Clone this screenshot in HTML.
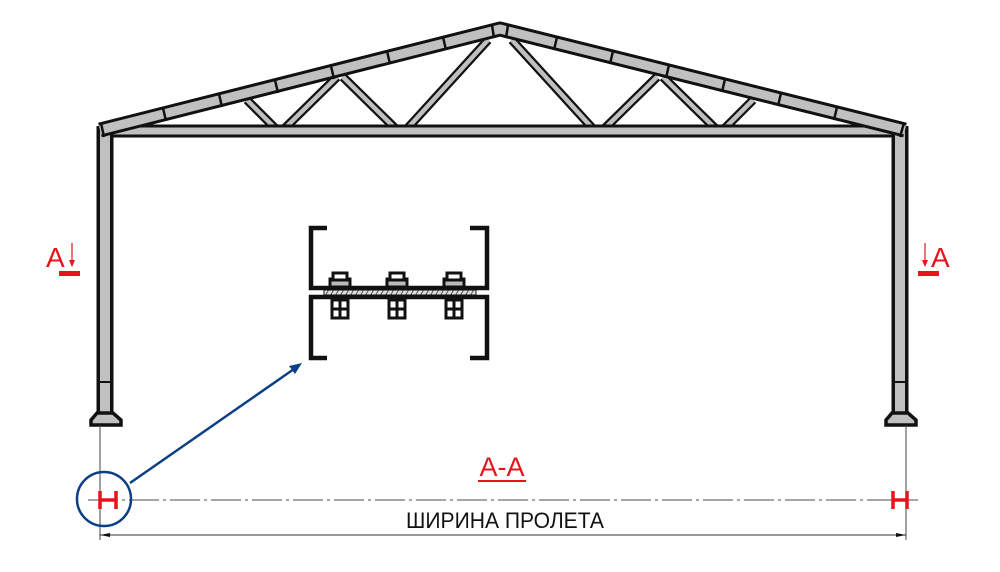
<!DOCTYPE html>
<html><head><meta charset="utf-8"><style>
html,body{margin:0;padding:0;background:#fff;width:1000px;height:572px;overflow:hidden}
svg{display:block}
</style></head><body>
<svg width="1000" height="572" viewBox="0 0 1000 572" xmlns="http://www.w3.org/2000/svg">
<defs>
<pattern id="hatch" width="5" height="6" patternUnits="userSpaceOnUse" patternTransform="skewX(-30)">
<rect width="5" height="6" fill="#ddd"/><line x1="1" y1="0" x2="1" y2="6" stroke="#444" stroke-width="1"/>
</pattern>
</defs>
<g stroke-linecap="butt">
<g stroke="#111" stroke-width="9">
<line x1="247" y1="100" x2="278" y2="131"/>
<line x1="282" y1="131" x2="337" y2="77"/>
<line x1="343" y1="77" x2="398" y2="131"/>
<line x1="405" y1="131" x2="488" y2="40"/>
<line x1="753" y1="100" x2="722" y2="131"/>
<line x1="718" y1="131" x2="663" y2="77"/>
<line x1="657" y1="77" x2="602" y2="131"/>
<line x1="595" y1="131" x2="512" y2="40"/>
</g>
<g stroke="#c0c0c0" stroke-width="4.5">
<line x1="247" y1="100" x2="278" y2="131"/>
<line x1="282" y1="131" x2="337" y2="77"/>
<line x1="343" y1="77" x2="398" y2="131"/>
<line x1="405" y1="131" x2="488" y2="40"/>
<line x1="753" y1="100" x2="722" y2="131"/>
<line x1="718" y1="131" x2="663" y2="77"/>
<line x1="657" y1="77" x2="602" y2="131"/>
<line x1="595" y1="131" x2="512" y2="40"/>
</g>
<line x1="105" y1="131" x2="900" y2="131" stroke="#111" stroke-width="13"/>
<line x1="105" y1="131" x2="900" y2="131" stroke="#c0c0c0" stroke-width="7"/>
<line x1="105" y1="126" x2="105" y2="416" stroke="#111" stroke-width="17"/>
<line x1="105" y1="126" x2="105" y2="416" stroke="#c0c0c0" stroke-width="10"/>
<line x1="900" y1="126" x2="900" y2="416" stroke="#111" stroke-width="17"/>
<line x1="900" y1="126" x2="900" y2="416" stroke="#c0c0c0" stroke-width="10"/>
<line x1="98" y1="382" x2="112" y2="382" stroke="#111" stroke-width="2"/>
<line x1="893" y1="382" x2="907" y2="382" stroke="#111" stroke-width="2"/>
<path d="M97,413 L91,420 L91,425 L121,425 L121,420 L113,413 Z" fill="#c0c0c0" stroke="#111" stroke-width="3.5"/>
<path d="M892,413 L886,420 L886,425 L916,425 L916,420 L908,413 Z" fill="#c0c0c0" stroke="#111" stroke-width="3.5"/>
<path d="M100,130 L500,29 L905,130" fill="none" stroke="#111" stroke-width="15" stroke-linejoin="round"/>
<path d="M100,130 L500,29 L905,130" fill="none" stroke="#c0c0c0" stroke-width="9" stroke-linejoin="round"/>
<g stroke="#111" stroke-width="2.5">
<line x1="101" y1="123" x2="104" y2="137"/>
<line x1="163" y1="108" x2="166" y2="121"/>
<line x1="219" y1="94" x2="222" y2="107"/>
<line x1="275" y1="80" x2="278" y2="93"/>
<line x1="331" y1="66" x2="334" y2="79"/>
<line x1="387" y1="51" x2="390" y2="64"/>
<line x1="443" y1="37" x2="446" y2="50"/>
<line x1="492" y1="25" x2="494" y2="38"/>
<line x1="508" y1="25" x2="506" y2="38"/>
<line x1="557" y1="37" x2="554" y2="50"/>
<line x1="613" y1="51" x2="610" y2="64"/>
<line x1="669" y1="65" x2="666" y2="78"/>
<line x1="725" y1="79" x2="722" y2="92"/>
<line x1="781" y1="93" x2="778" y2="106"/>
<line x1="837" y1="107" x2="834" y2="120"/>
<line x1="904" y1="123" x2="900" y2="137"/>
</g>
</g>
<g fill="none" stroke="#111" stroke-width="4.5">
<path d="M327,228 L311,228 L311,288 L487,288 L487,228 L470,228"/>
<path d="M327,358 L311,358 L311,297 L487,297 L487,358 L470,358"/>
</g>
<rect x="324" y="290" width="152" height="5" fill="url(#hatch)" stroke="#111" stroke-width="1"/>
<g fill="#fff" stroke="#111" stroke-width="3">
<g transform="translate(340,0)"><rect x="-10" y="279" width="20" height="8" fill="#bbb"/><rect x="-7" y="273" width="14" height="7"/><rect x="-8" y="300" width="16" height="18"/><line x1="0" y1="300" x2="0" y2="318"/><line x1="-8" y1="309" x2="8" y2="309"/></g>
<g transform="translate(397,0)"><rect x="-10" y="279" width="20" height="8" fill="#bbb"/><rect x="-7" y="273" width="14" height="7"/><rect x="-8" y="300" width="16" height="18"/><line x1="0" y1="300" x2="0" y2="318"/><line x1="-8" y1="309" x2="8" y2="309"/></g>
<g transform="translate(454,0)"><rect x="-10" y="279" width="20" height="8" fill="#bbb"/><rect x="-7" y="273" width="14" height="7"/><rect x="-8" y="300" width="16" height="18"/><line x1="0" y1="300" x2="0" y2="318"/><line x1="-8" y1="309" x2="8" y2="309"/></g>
</g>
<line x1="100" y1="425" x2="100" y2="540" stroke="#444" stroke-width="1"/>
<line x1="906" y1="425" x2="906" y2="540" stroke="#444" stroke-width="1"/>
<line x1="88" y1="500" x2="918" y2="500" stroke="#888" stroke-width="1.5" stroke-dasharray="30,4,3,4"/>
<line x1="100" y1="535" x2="906" y2="535" stroke="#333" stroke-width="1"/>
<path d="M100,535 L110,533 L110,537 Z M906,535 L896,533 L896,537 Z" fill="#111"/>
<text x="505" y="528" font-family="Liberation Sans, sans-serif" font-size="22" text-anchor="middle" textLength="198" lengthAdjust="spacingAndGlyphs" fill="#111">ШИРИНА ПРОЛЕТА</text>
<g stroke="#e8141c" stroke-width="3.5" fill="none">
<path d="M100,491 v18 M116,491 v18 M100,500 h16"/>
<path d="M893,491 v18 M907,491 v18 M893,500 h14"/>
</g>
<text x="502" y="476" font-family="Liberation Sans, sans-serif" font-size="27" text-anchor="middle" fill="#e8141c">А-А</text>
<line x1="478" y1="481" x2="526" y2="481" stroke="#e8141c" stroke-width="2"/>
<text x="46" y="267" font-family="Liberation Sans, sans-serif" font-size="28" fill="#e8141c">А</text>
<line x1="72" y1="243" x2="72" y2="266" stroke="#e8141c" stroke-width="1.2"/>
<path d="M69,260 L75,260 L72,267 Z" fill="#e8141c"/>
<rect x="59" y="271" width="21" height="5" fill="#e8141c"/>
<text x="931" y="267" font-family="Liberation Sans, sans-serif" font-size="28" fill="#e8141c">А</text>
<line x1="925" y1="243" x2="925" y2="266" stroke="#e8141c" stroke-width="1.2"/>
<path d="M922,260 L928,260 L925,267 Z" fill="#e8141c"/>
<rect x="918" y="271" width="21" height="5" fill="#e8141c"/>
<circle cx="104" cy="499" r="27" fill="none" stroke="#0d3f86" stroke-width="2.5"/>
<line x1="130" y1="483" x2="294" y2="369" stroke="#0d3f86" stroke-width="2.5"/>
<path d="M302,363 L289,366 L295,374 Z" fill="#0d3f86"/>
</svg>
</body></html>
